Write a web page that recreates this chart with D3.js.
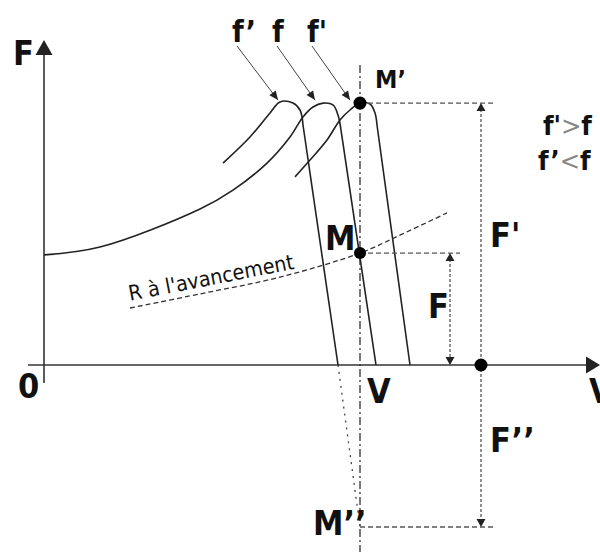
<!DOCTYPE html>
<html>
<head>
<meta charset="utf-8">
<script src="https://cdn.jsdelivr.net/npm/d3@7"></script>
<style>
  body { margin: 0; background: #fff; }
  svg { display: block; }
  .lbl {
    font-family: "Liberation Sans Narrow", "DejaVu Sans Condensed", "Liberation Sans", Arial, sans-serif;
    font-weight: bold;
    fill: #111;
  }
  .lbl.thin { font-weight: normal; }
</style>
</head>
<body>
<svg id="chart" width="600" height="553"></svg>
<script>
// traction curves F(V) for three frequencies (V, F in arbitrary units)
const lowV  = [35.8, 41.2, 45.2, 47.2, 49.8, 51.2, 51.8, 58.8];
const lowF  = [67.3, 76, 84, 87.7, 87.3, 85, 80, 0];
const midV  = [0, 11.2, 31.2, 37.8, 44.6, 49.2, 51.8, 53.8, 55.8, 57.8, 58.8, 59.4, 66.4];
const midF  = [36.7, 39.3, 52, 58.3, 67.3, 76, 82.7, 86, 87.3, 86.7, 83.3, 78.3, 0];
const highV = [50.2, 53.2, 56.6, 59.2, 61.2, 63.2, 65.2, 66.2, 66.6, 73.2];
const highF = [62.7, 68.3, 75, 81.7, 85, 87.3, 87, 84, 80, 0];

// resistance to motion
const resV = [17.2, 31.2, 47.2, 63.2, 71.2, 80.6];
const resF = [19, 23.7, 29.3, 37.3, 43.3, 50.7];

// operating points
const pointNames = ["M", "M'", "M''"];
const pointV = [63.2, 63.2, 63.2];
const pointF = [37.3, 87.3, -54];
const forceV = 87.4; // where F' / F'' are measured

const svg = d3.select("#chart");
const x = d3.scaleLinear().domain([0, 100]).range([44, 544]);
const y = d3.scaleLinear().domain([0, 100]).range([365, 65]);

const ink = "#222";
const zip = (a, b) => a.map((v, i) => [v, b[i]]);
const line = d3.line().x(d => x(d[0])).y(d => y(d[1]));
const smooth = d3.line().x(d => x(d[0])).y(d => y(d[1])).curve(d3.curveCatmullRom.alpha(0.5));

function head(px, py, angle, w, h) {
  // triangle pointing along angle (deg), tip at (px,py)
  svg.append("path")
    .attr("d", `M0,0L${-h},${-w / 2}L${-h},${w / 2}Z`)
    .attr("transform", `translate(${px},${py}) rotate(${angle})`)
    .attr("fill", ink);
}

// axes
svg.append("line").attr("x1", x(0)).attr("x2", x(0)).attr("y1", 383).attr("y2", 52)
  .attr("stroke", "#333").attr("stroke-width", 1.6);
head(x(0), 40, -90, 17, 15);
svg.append("line").attr("x1", 28).attr("x2", 590).attr("y1", y(0)).attr("y2", y(0))
  .attr("stroke", "#333").attr("stroke-width", 1.6);
head(600, y(0), 0, 17, 14);

// vertical dash-dot through the operating points
svg.append("line").attr("x1", x(63.2)).attr("x2", x(63.2)).attr("y1", y(100)).attr("y2", 552)
  .attr("stroke", "#333").attr("stroke-width", 1.3).attr("stroke-dasharray", "8,3,2,3");

// traction curves: rounded part then straight descent
[[lowV, lowF], [midV, midF], [highV, highF]].forEach(([vs, fs]) => {
  const pts = zip(vs, fs);
  svg.append("path").attr("d", smooth(pts.slice(0, -1)))
    .attr("fill", "none").attr("stroke", ink).attr("stroke-width", 1.6);
  svg.append("path").attr("d", line(pts.slice(-2)))
    .attr("fill", "none").attr("stroke", ink).attr("stroke-width", 1.6);
});

// extension of the f'' line below the axis
svg.append("path")
  .attr("d", line([[lowV[lowV.length - 1], 0], [pointV[2], pointF[2]]]))
  .attr("stroke", "#444").attr("stroke-width", 1.3).attr("stroke-dasharray", "2,5").attr("fill", "none");

// resistance curve
svg.append("path").attr("d", smooth(zip(resV, resF)))
  .attr("fill", "none").attr("stroke", "#333").attr("stroke-width", 1.3).attr("stroke-dasharray", "5,3");

svg.append("text").attr("class", "lbl thin")
  .attr("transform", `translate(${x(17.2)},${y(21.4)}) rotate(-11)`)
  .attr("font-size", 21)
  .attr("textLength", 168).attr("lengthAdjust", "spacingAndGlyphs")
  .text("R à l'avancement");

// guide lines
const guide = (x1, y1, x2, y2, dash) => svg.append("line")
  .attr("x1", x1).attr("y1", y1).attr("x2", x2).attr("y2", y2)
  .attr("stroke", "#555").attr("stroke-width", 1.3).attr("stroke-dasharray", dash);

guide(x(63.2), y(87.3), x(90.2), y(87.3), "5,3");
guide(x(63.2), y(37.3), x(83.2), y(37.3), "5,3");
guide(x(63.2), y(-54), x(90.2), y(-54), "5,3");
guide(x(forceV), y(87.3) + 6, x(forceV), y(-54) - 6, "3,2");
guide(x(81.2), y(37.3) + 6, x(81.2), y(0) - 6, "3,2");
head(x(forceV), y(87.3), -90, 9, 8);
head(x(forceV), y(-54), 90, 9, 8);
head(x(81.2), y(37.3), -90, 9, 8);
head(x(81.2), y(0), 90, 9, 8);

// dots
svg.append("circle").attr("cx", x(pointV[0])).attr("cy", y(pointF[0])).attr("r", 6).attr("fill", "#000");
svg.append("circle").attr("cx", x(pointV[1])).attr("cy", y(pointF[1])).attr("r", 6.5).attr("fill", "#000");
svg.append("circle").attr("cx", x(forceV)).attr("cy", y(0)).attr("r", 6.5).attr("fill", "#000");

// frequency labels with pointers
const freqNames = ["f’", "f", "f'"];
const freqX = [232, 272, 307];
const tipV = [46.8, 54.2, 61.2];
freqNames.forEach((n, i) => {
  svg.append("text").attr("class", "lbl").attr("x", freqX[i]).attr("y", 42)
    .attr("font-size", 30).text(n);
  const x1 = freqX[i] + 5, y1 = 46, x2 = x(tipV[i]), y2 = y(88.3);
  svg.append("line").attr("x1", x1).attr("y1", y1).attr("x2", x2).attr("y2", y2)
    .attr("stroke", "#444").attr("stroke-width", 1);
  head(x2, y2, Math.atan2(y2 - y1, x2 - x1) * 180 / Math.PI, 8, 9);
});

// text labels
const lbl = (t, px, py, size) => svg.append("text").attr("class", "lbl")
  .attr("x", px).attr("y", py).attr("font-size", size).text(t);
lbl("F", 13, 65, 34);
lbl("0", 18, 398, 34);
lbl("V", 367, 403, 34);
lbl("V", 589, 403, 34);
lbl("M", 325, 250, 34);
lbl("M’", 375, 88, 25);
lbl("F", 428, 318, 34);
lbl("F'", 490, 247, 34);
lbl("F’’", 490, 452, 34);
lbl("M’’", 313, 535, 34);

const t1 = svg.append("text").attr("class", "lbl").attr("x", 543).attr("y", 135).attr("font-size", 27);
t1.append("tspan").text("f'");
t1.append("tspan").attr("style", "font-weight:normal").attr("fill", "#888").text(">");
t1.append("tspan").text("f");
const t2 = svg.append("text").attr("class", "lbl").attr("x", 538).attr("y", 170).attr("font-size", 27);
t2.append("tspan").text("f’");
t2.append("tspan").attr("style", "font-weight:normal").attr("fill", "#888").text("<");
t2.append("tspan").text("f");
</script>
</body>
</html>
